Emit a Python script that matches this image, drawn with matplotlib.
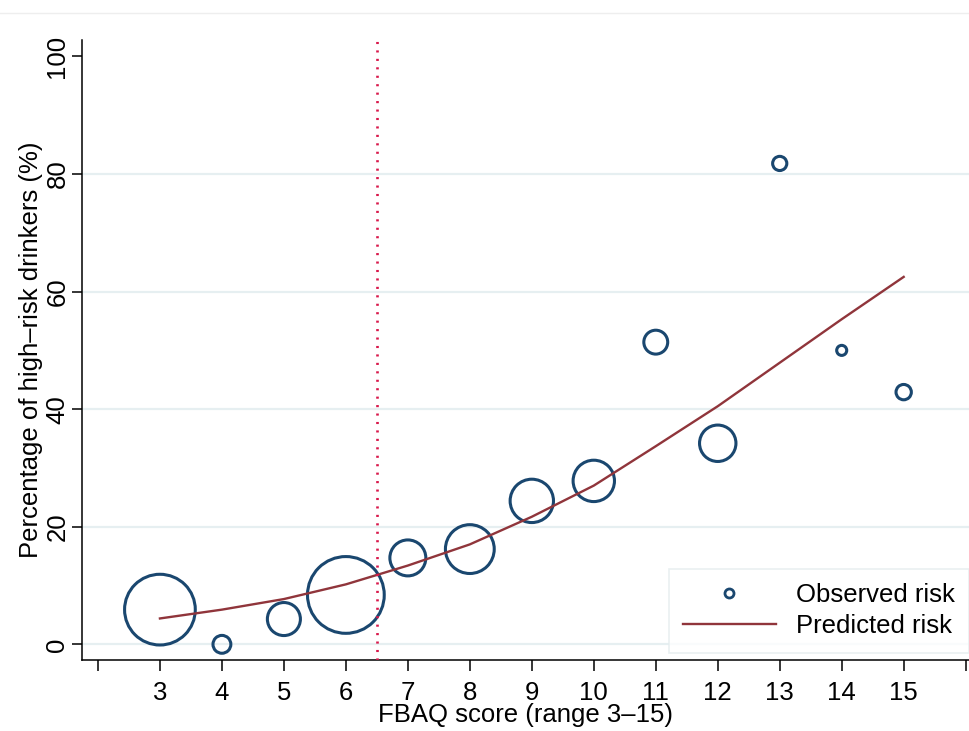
import matplotlib
matplotlib.use('Agg')
import matplotlib.pyplot as plt
from matplotlib.lines import Line2D
import numpy as np

plt.rcParams['font.family'] = ['Liberation Sans', 'DejaVu Sans']

# Данные: балл FBAQ, наблюдаемый и предсказанный риск, размер групп
fbaq_score = [3, 4, 5, 6, 7, 8, 9, 10, 11, 12, 13, 14, 15]
observed_risk = [5.9, 0.0, 4.3, 8.4, 14.7, 16.2, 24.4, 27.8, 51.4, 34.2, 81.8, 50.0, 42.9]
predicted_risk = [4.4, 5.9, 7.7, 10.2, 13.4, 17.0, 21.7, 27.0, 33.7, 40.5, 47.9, 55.3, 62.5]
group_n = [298, 19, 65, 351, 77, 142, 112, 102, 34, 79, 12, 6, 14]
cutoff = 6.5

x_ticks = list(range(2, 17))
x_ticklabels = ['' if t in (2, 16) else str(t) for t in x_ticks]
y_ticks = [0, 20, 40, 60, 80, 100]

navy = '#1a476f'
maroon = '#90353b'

fig = plt.figure(figsize=(9.7, 7.31), dpi=100)
ax = fig.add_axes([0.0845, 0.0971, 0.9155, 0.8482])

for g in y_ticks[:-1]:
    ax.axhline(g, color='#e6eff1', linewidth=1.6, zorder=0)

ax.scatter(fbaq_score, observed_risk, s=np.array(group_n) * 8.7,
           facecolors='none', edgecolors=navy, linewidths=2.2, zorder=3)
ax.plot(fbaq_score, predicted_risk, color=maroon, linewidth=1.7, zorder=4)
ax.axvline(cutoff, color='#d8174a', linewidth=1.9,
           linestyle=(0, (0.8, 2.4)), zorder=5)

ax.set_xlim(1.742, 16.07)
ax.set_ylim(-2.67, 102.8)
ax.set_xticks(x_ticks)
ax.set_xticklabels(x_ticklabels)
ax.set_yticks(y_ticks)
ax.set_yticklabels([str(t) for t in y_ticks], rotation=90, va='center')
ax.tick_params(axis='x', length=8, width=1.1, pad=7, labelsize=18.5)
ax.tick_params(axis='y', length=7, width=1.1, pad=2, labelsize=18.5)

for side in ['top', 'right']:
    ax.spines[side].set_visible(False)
for side in ['left', 'bottom']:
    ax.spines[side].set_linewidth(1.1)

ax.set_xlabel('FBAQ score (range 3–15)', fontsize=18.5, labelpad=-1)
ax.set_ylabel('Percentage of high–risk drinkers (%)', fontsize=18.5, labelpad=2)

handles = [
    Line2D([], [], linestyle='none', marker='o', markersize=6.5,
           markerfacecolor='none', markeredgecolor=navy, markeredgewidth=2.0),
    Line2D([], [], color=maroon, linewidth=1.7),
]
leg = ax.legend(handles, ['Observed risk', 'Predicted risk'],
                loc='lower right', bbox_to_anchor=(0.999, 0.012),
                fontsize=18.5, frameon=True, fancybox=False,
                handlelength=3.6, handletextpad=0.8, borderpad=0.55,
                borderaxespad=0, labelspacing=0.3)
leg.get_frame().set_edgecolor('#e4ecee')
leg.get_frame().set_linewidth(1.2)

# тонкая рамка сверху, как на исходной картинке
fig.add_artist(Line2D([0, 1], [0.982, 0.982], transform=fig.transFigure,
                      color='#eeeeee', linewidth=1))

plt.savefig('out.png', dpi=100)
plt.close()
